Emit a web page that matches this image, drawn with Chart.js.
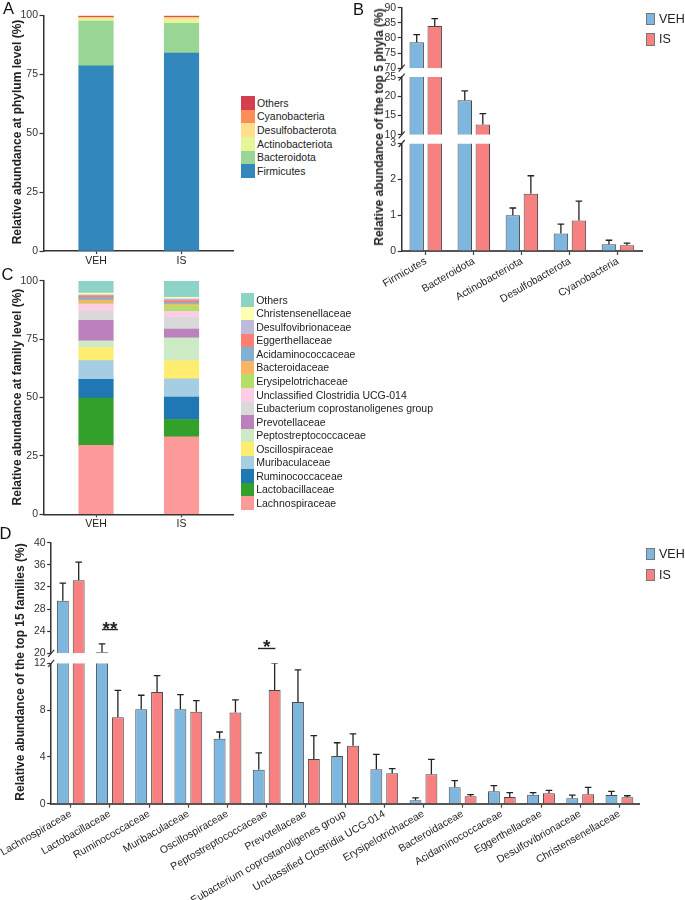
<!DOCTYPE html>
<html><head><meta charset="utf-8">
<script src="https://cdn.jsdelivr.net/npm/chart.js@4.4.1/dist/chart.umd.min.js"></script>
<style>
html,body{margin:0;padding:0;background:#fff;}
body{width:685px;height:900px;position:relative;overflow:hidden;font-family:'Liberation Sans',Arial,Helvetica,sans-serif;color:#222;}
canvas{position:absolute;}
.plbl{position:absolute;font-size:16.5px;line-height:1;color:#111;}
.ytitle{position:absolute;font-weight:bold;font-size:12px;line-height:1;white-space:nowrap;color:#222;transform:translate(-50%,-50%) rotate(-90deg);}
.leg{position:absolute;font-size:10.5px;line-height:1;color:#222;}
.leg .row{display:flex;align-items:center;}
.leg .sw{flex:none;}
.grp{position:absolute;font-size:12.5px;line-height:1;color:#222;}
.grp .row{position:absolute;display:flex;align-items:center;white-space:nowrap;}
.grp .sw{width:7px;height:10.5px;border:1px solid #777;margin-right:4px;}
</style></head>
<body>
<canvas id="cA" width="240" height="275" style="left:0;top:0"></canvas>
<canvas id="cC" width="240" height="275" style="left:0;top:265px"></canvas>
<canvas id="cB" width="300" height="312" style="left:355px;top:0"></canvas>
<canvas id="cD" width="685" height="380" style="left:0;top:520px"></canvas>

<div class="plbl" style="left:3px;top:-0.2px">A</div>
<div class="plbl" style="left:353px;top:0.8px">B</div>
<div class="plbl" style="left:1.5px;top:265.8px">C</div>
<div class="plbl" style="left:-0.5px;top:525px">D</div>

<div class="ytitle" style="left:17px;top:132px">Relative abundance at phylum level (%)</div>
<div class="ytitle" style="left:378.5px;top:127px">Relative abundance of the top 5 phyla (%)</div>
<div class="ytitle" style="left:17px;top:397px">Relative abundance at family level (%)</div>
<div class="ytitle" style="left:19.5px;top:672px">Relative abundance of the top 15 families (%)</div>

<div id="legA" class="leg" style="left:241px;top:96.2px"></div>
<div id="legC" class="leg" style="left:240.7px;top:293.2px"></div>
<div id="legB" class="grp" style="left:646px;top:0"></div>
<div id="legD" class="grp" style="left:646px;top:535px"></div>

<script>
// ---------------- data ----------------
const groups = ['VEH', 'IS'];

const phylumNames = ['Firmicutes', 'Bacteroidota', 'Actinobacteriota', 'Desulfobacterota', 'Cyanobacteria', 'Others'];
const phylumVEH = [78.6, 19.0, 1.0, 0.49, 0.19, 0.72];
const phylumIS  = [84.0, 12.7, 1.6, 0.85, 0.16, 0.69];
const phylumVEHErr = [2.5, 2.4, 0.2, 0.26, 0.11];
const phylumISErr  = [2.4, 2.8, 0.5, 0.54, 0.06];
const phylumColors = ['#3288bd', '#99d594', '#e6f598', '#fee08b', '#fc8d59', '#d53e4f'];

const familyNames = ['Lachnospiraceae', 'Lactobacillaceae', 'Ruminococcaceae', 'Muribaculaceae', 'Oscillospiraceae',
  'Peptostreptococcaceae', 'Prevotellaceae', 'Eubacterium coprostanoligenes group', 'Unclassified Clostridia UCG-014',
  'Erysipelotrichaceae', 'Bacteroidaceae', 'Acidaminococcaceae', 'Eggerthellaceae', 'Desulfovibrionaceae', 'Christensenellaceae'];
const familyVEH    = [29.5, 20.2, 8.07, 8.07, 5.56, 2.9, 8.69, 4.08, 2.94, 0.29, 1.4, 1.06, 0.77, 0.46, 0.74];
const familyVEHErr = [3.2, 1.5, 1.2, 1.25, 0.57, 1.45, 2.75, 1.13, 1.28, 0.2, 0.57, 0.48, 0.17, 0.28, 0.32];
const familyIS     = [33.2, 7.38, 9.55, 7.86, 7.8, 9.72, 3.82, 4.96, 2.6, 2.51, 0.63, 0.57, 0.89, 0.8, 0.55];
const familyISErr  = [3.3, 2.3, 1.4, 0.95, 1.08, 2.3, 2.0, 1.0, 0.4, 1.28, 0.14, 0.37, 0.25, 0.6, 0.13];
const familyOthers = [5.2, 7.1]; // VEH, IS
const familyColors = ['#fb9a99', '#33a02c', '#1f78b4', '#a6cee3', '#ffed6f', '#ccebc5', '#bc80bd', '#d9d9d9',
  '#fccde5', '#b3de69', '#fdb462', '#80b1d3', '#fb8072', '#bebada', '#ffffb3'];
const othersColor = '#8dd3c7';

const VEH_COLOR = '#7db6df';
const IS_COLOR = '#f88080';

// ---------------- defaults ----------------
Chart.defaults.font.family = "'Liberation Sans', Arial, Helvetica, sans-serif";
Chart.defaults.font.size = 10.5;
Chart.defaults.color = '#333';
Chart.defaults.animation = false;
Chart.defaults.responsive = false;
Chart.defaults.devicePixelRatio = 1;
Chart.defaults.plugins.legend.display = false;
Chart.defaults.plugins.tooltip.enabled = false;

// ---------------- plugins ----------------
const segmentPlugin = {
  id: 'segment',
  beforeDatasetDraw(chart, args) {
    const ys = args.meta.yScale, a = chart.chartArea, ctx = chart.ctx;
    ctx.save();
    ctx.beginPath();
    ctx.rect(a.left - 2, ys.top, a.right - a.left + 4, ys.bottom - ys.top);
    ctx.clip();
  },
  afterDatasetDraw(chart, args) {
    const ctx = chart.ctx, ds = chart.data.datasets[args.index], ys = args.meta.yScale;
    if (ds.errors) {
      ctx.strokeStyle = '#222';
      ctx.lineWidth = 1.3;
      args.meta.data.forEach((bar, i) => {
        const v = ds.data[i], e = ds.errors[i];
        const y0 = ys.getPixelForValue(v), y1 = ys.getPixelForValue(v + e);
        ctx.beginPath();
        ctx.moveTo(bar.x, y0); ctx.lineTo(bar.x, y1);
        ctx.moveTo(bar.x - 3.3, y1); ctx.lineTo(bar.x + 3.3, y1);
        ctx.stroke();
      });
    }
    ctx.restore();
  }
};

const breakPlugin = {
  id: 'axisBreaks',
  afterDraw(chart, args, opts) {
    const ctx = chart.ctx, ax = chart.chartArea.left;
    ctx.save();
    ctx.strokeStyle = '#333';
    ctx.lineWidth = 1.2;
    (opts.gaps || []).forEach(id => {
      const g = chart.scales[id];
      [g.top, g.bottom].forEach(y => {
        ctx.beginPath(); ctx.moveTo(ax - 3, y + 3.5); ctx.lineTo(ax + 3, y - 3.5); ctx.stroke();
      });
    });
    ctx.restore();
  }
};

const sigPlugin = {
  id: 'sig',
  afterDatasetsDraw(chart, args, opts) {
    if (!opts.marks) return;
    const ctx = chart.ctx, xs = chart.scales.x, ys = chart.scales[opts.scale];
    ctx.save();
    opts.marks.forEach(m => {
      const cx = xs.getPixelForValue(m.index), y = ys.getPixelForValue(m.level);
      ctx.strokeStyle = '#222'; ctx.lineWidth = 1.4;
      ctx.beginPath(); ctx.moveTo(cx - m.half, y); ctx.lineTo(cx + m.half, y); ctx.stroke();
      ctx.fillStyle = '#222';
      ctx.font = "bold 19px 'Liberation Sans', Arial, sans-serif";
      ctx.textAlign = 'center'; ctx.textBaseline = 'alphabetic';
      ctx.fillText(m.text, cx, y + 5);
    });
    ctx.restore();
  }
};

// ---------------- helpers ----------------
function yAxis(w, extra) {
  return Object.assign({
    type: 'linear', position: 'left',
    grid: { display: true, drawOnChartArea: false, drawTicks: true, tickLength: 4, tickColor: '#333', tickWidth: 1.2 },
    border: { display: true, color: '#333', width: 1.5 },
    afterFit: s => { s.width = w; }
  }, extra);
}
function yTicks(step) {
  return { stepSize: step, autoSkip: false, padding: 1.5, color: '#333', font: { size: 10.5 } };
}
function gapAxis(w, extra) {
  return Object.assign({
    type: 'linear', position: 'left', min: 0, max: 1, display: true,
    grid: { display: false }, border: { display: false }, ticks: { display: false },
    afterFit: s => { s.width = w; }
  }, extra);
}
function groupXAxis(h) {
  return {
    type: 'linear', stacked: true, offset: false, min: -0.614, max: 1.602,
    grid: { display: true, offset: false, drawOnChartArea: false, tickLength: 3, tickColor: '#333', tickWidth: 1.2 },
    border: { color: '#333', width: 1.5 },
    ticks: { stepSize: 1, includeBounds: false, autoSkip: false, padding: 1, color: '#222', callback: v => groups[v] ?? '' },
    afterFit: s => { s.height = h; }
  };
}
function catXAxis(h) {
  return {
    type: 'category', offset: true,
    grid: { display: true, offset: false, drawOnChartArea: false, tickLength: 4, tickColor: '#444', tickWidth: 1.2 },
    border: { color: '#555', width: 2 },
    ticks: { autoSkip: false, minRotation: 30, maxRotation: 30, padding: 0, color: '#222', font: { size: 10.5 } },
    afterFit: s => { s.height = h; }
  };
}

// ---------------- Panel A ----------------
new Chart(document.getElementById('cA'), {
  type: 'bar',
  data: {
    datasets: phylumNames.map((n, k) => ({
      label: n,
      data: groups.map((g, j) => ({ x: j, y: (j === 0 ? phylumVEH : phylumIS)[k] })),
      backgroundColor: phylumColors[k], borderWidth: 0, barThickness: 34.5
    }))
  },
  options: {
    layout: { padding: { top: 15.5, right: 7, left: 0, bottom: 0 } },
    scales: {
      x: groupXAxis(24),
      y: yAxis(43.5, { stacked: true, min: 0, max: 100, ticks: yTicks(25) })
    }
  },
  plugins: [segmentPlugin]
});

// ---------------- Panel C ----------------
const cDatasets = familyNames.map((n, k) => ({
  label: n,
  data: groups.map((g, j) => ({ x: j, y: (j === 0 ? familyVEH : familyIS)[k] })),
  backgroundColor: familyColors[k], borderWidth: 0, barThickness: 34.5
}));
cDatasets.push({
  label: 'Others',
  data: groups.map((g, j) => ({ x: j, y: familyOthers[j] })),
  backgroundColor: othersColor, borderWidth: 0, barThickness: 34.5
});
new Chart(document.getElementById('cC'), {
  type: 'bar',
  data: { datasets: cDatasets },
  options: {
    layout: { padding: { top: 15.7, right: 7, left: 0, bottom: 0 } },
    scales: {
      x: groupXAxis(25.7),
      y: yAxis(43.5, { stacked: true, min: 0, max: 100, ticks: yTicks(25) })
    }
  },
  plugins: [segmentPlugin]
});

// ---------------- Panel B ----------------
const top5 = phylumNames.slice(0, 5);
const bDatasets = [];
['bTop', 'bMid', 'bBot'].forEach(id => {
  bDatasets.push({ label: 'VEH', data: phylumVEH.slice(0, 5), errors: phylumVEHErr, yAxisID: id, stack: 'VEH',
    backgroundColor: VEH_COLOR, borderColor: '#4a4a4a', borderWidth: 1, categoryPercentage: 0.75, barPercentage: 0.8 });
  bDatasets.push({ label: 'IS', data: phylumIS.slice(0, 5), errors: phylumISErr, yAxisID: id, stack: 'IS',
    backgroundColor: IS_COLOR, borderColor: '#4a4a4a', borderWidth: 1, categoryPercentage: 0.75, barPercentage: 0.8 });
});
new Chart(document.getElementById('cB'), {
  type: 'bar',
  data: { labels: top5, datasets: bDatasets },
  options: {
    layout: { padding: { top: 6.7, right: 13, left: 0, bottom: 0 } },
    scales: {
      x: catXAxis(61),
      bTop: yAxis(46.7, { stack: 'b', stackWeight: 60.6, weight: 5, min: 70, max: 90, ticks: yTicks(5) }),
      bGap1: gapAxis(46.7, { stack: 'b', stackWeight: 9, weight: 4 }),
      bMid: yAxis(46.7, { stack: 'b', stackWeight: 58, weight: 3, min: 10, max: 25, ticks: yTicks(5) }),
      bGap2: gapAxis(46.7, { stack: 'b', stackWeight: 8.7, weight: 2 }),
      bBot: yAxis(46.7, { stack: 'b', stackWeight: 108, weight: 1, min: 0, max: 3, ticks: yTicks(1) })
    },
    plugins: { axisBreaks: { gaps: ['bGap1', 'bGap2'] } }
  },
  plugins: [segmentPlugin, breakPlugin]
});

// ---------------- Panel D ----------------
const dDatasets = [];
['dUp', 'dLow'].forEach(id => {
  dDatasets.push({ label: 'VEH', data: familyVEH, errors: familyVEHErr, yAxisID: id, stack: 'VEH',
    backgroundColor: VEH_COLOR, borderColor: '#4a4a4a', borderWidth: 1, categoryPercentage: 0.81, barPercentage: 0.75 });
  dDatasets.push({ label: 'IS', data: familyIS, errors: familyISErr, yAxisID: id, stack: 'IS',
    backgroundColor: IS_COLOR, borderColor: '#4a4a4a', borderWidth: 1, categoryPercentage: 0.81, barPercentage: 0.75 });
});
new Chart(document.getElementById('cD'), {
  type: 'bar',
  data: { labels: familyNames, datasets: dDatasets },
  options: {
    layout: { padding: { top: 22.7, right: 46, left: 0, bottom: 0 } },
    scales: {
      x: catXAxis(96.3),
      dUp: yAxis(45, { stack: 'd', stackWeight: 110.6, weight: 3, min: 20, max: 40, ticks: yTicks(4) }),
      dGap: gapAxis(45, { stack: 'd', stackWeight: 10, weight: 2 }),
      dLow: yAxis(45, { stack: 'd', stackWeight: 140.4, weight: 1, min: 0, max: 12, ticks: yTicks(4) })
    },
    plugins: {
      axisBreaks: { gaps: ['dGap'] },
      sig: { scale: 'dUp', marks: [
        { index: 1, text: '**', level: 24.3, half: 8 },
        { index: 5, text: '*', level: 20.87, half: 8.7 }
      ] }
    }
  },
  plugins: [segmentPlugin, breakPlugin, sigPlugin]
});

// ---------------- HTML legends ----------------
function boxLegend(el, names, colors, rowH, boxW, textGap) {
  names.forEach((n, i) => {
    const row = document.createElement('div');
    row.className = 'row';
    row.style.height = rowH + 'px';
    const sw = document.createElement('div');
    sw.className = 'sw';
    sw.style.width = boxW + 'px'; sw.style.height = rowH + 'px';
    sw.style.background = colors[i];
    sw.style.marginRight = textGap + 'px';
    const t = document.createElement('span');
    t.textContent = n;
    row.appendChild(sw); row.appendChild(t);
    el.appendChild(row);
  });
}
boxLegend(document.getElementById('legA'), phylumNames.slice().reverse(), phylumColors.slice().reverse(), 13.6, 13.5, 2.5);
boxLegend(document.getElementById('legC'), ['Others'].concat(familyNames.slice().reverse()),
  [othersColor].concat(familyColors.slice().reverse()), 13.55, 13, 2.5);

function groupLegend(el, tops) {
  groups.forEach((g, i) => {
    const row = document.createElement('div');
    row.className = 'row';
    row.style.top = tops[i] + 'px';
    const sw = document.createElement('div');
    sw.className = 'sw';
    sw.style.background = i === 0 ? VEH_COLOR : IS_COLOR;
    const t = document.createElement('span');
    t.textContent = g;
    row.appendChild(sw); row.appendChild(t);
    el.appendChild(row);
  });
}
groupLegend(document.getElementById('legB'), [12.7, 33.3]);
groupLegend(document.getElementById('legD'), [12.7, 33.7]);
</script>
</body></html>
